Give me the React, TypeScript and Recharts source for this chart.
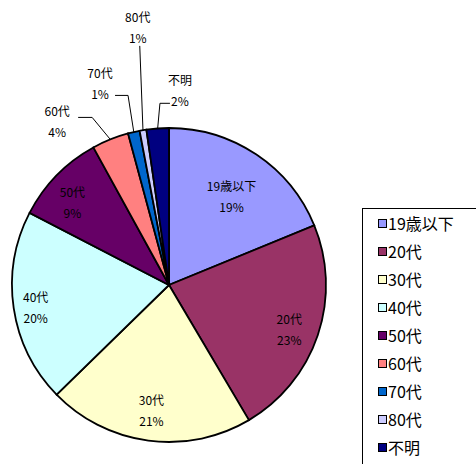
import React from 'react';
import { PieChart, Pie, Cell, Legend } from 'recharts';

// ---- data ----
const categories = ['19歳以下', '20代', '30代', '40代', '50代', '60代', '70代', '80代', '不明'];
const shares = [18.8, 22.7, 21.2, 19.9, 9.4, 3.8, 1.2, 0.7, 2.3];
const colors = ['#9999FF', '#993366', '#FFFFCC', '#CCFFFF', '#660066', '#FF8080', '#0066CC', '#CCCCFF', '#000080'];

const data = categories.map((name, i) => ({ name, value: shares[i] }));

// ---- label layout (polar: radius px, angle deg clockwise from top) ----
type Lay = { r: number; a: number; bend?: [number, number]; end?: [number, number] };
const LABEL_LAYOUT: Lay[] = [
  { r: 109, a: 35 },
  { r: 128, a: 110 },
  { r: 126, a: 188 },
  { r: 135, a: 261 },
  { r: 128, a: 311 },
  { r: 199, a: 325.8, bend: [35, -3], end: [21, -3] },
  { r: 214, a: 341.2, bend: [28, 13], end: [15, 13] },
  { r: 260, a: 353.1, bend: [2, 19], end: [2, 19] },
  { r: 196, a: 3.2, bend: [-20, 14], end: [-10, 14] },
];

const FONT = '"Noto Sans CJK JP", "Noto Sans", sans-serif';
const RAD = Math.PI / 180;

const renderLabel = (props: any) => {
  const { cx, cy, midAngle, outerRadius, index, name, percent } = props;
  const lay = LABEL_LAYOUT[index];
  const lx = cx + lay.r * Math.sin(lay.a * RAD);
  const ly = cy - lay.r * Math.cos(lay.a * RAD);
  const pct = `${Math.round(percent * 100)}%`;
  let line = null;
  if (lay.bend && lay.end) {
    const ex = cx + outerRadius * Math.cos(-midAngle * RAD);
    const ey = cy + outerRadius * Math.sin(-midAngle * RAD);
    const bx = lx + lay.bend[0];
    const by = ly + lay.bend[1];
    const tx = lx + lay.end[0];
    const ty = ly + lay.end[1];
    line = (
      <polyline points={`${ex},${ey} ${bx},${by} ${tx},${ty}`} fill="none" stroke="#000" strokeWidth={1} />
    );
  }
  return (
    <g>
      {line}
      <text x={lx} y={ly - 10} textAnchor="middle" dominantBaseline="central" fontSize={12} fill="#000" fontFamily={FONT}>
        {name}
      </text>
      <text x={lx} y={ly + 11} textAnchor="middle" dominantBaseline="central" fontSize={12} fill="#000" fontFamily={FONT}>
        {pct}
      </text>
    </g>
  );
};

const renderLegend = () => (
  <div
    style={{
      border: '1px solid #000',
      width: 140,
      height: 280,
      boxSizing: 'border-box',
      background: '#fff',
      paddingTop: 0,
      fontFamily: FONT,
    }}
  >
    {categories.map((c, i) => (
      <div key={c} style={{ display: 'flex', alignItems: 'center', height: 28, paddingLeft: 15 }}>
        <span
          style={{
            display: 'inline-block',
            width: 7,
            height: 7,
            border: '1.5px solid #000',
            background: colors[i],
            marginRight: 1,
          }}
        />
        <span style={{ fontSize: 16, color: '#000', lineHeight: '28px' }}>{c}</span>
      </div>
    ))}
  </div>
);

export default function App() {
  return (
    <div style={{ position: 'absolute', left: 0, top: 0, width: 476, height: 464, overflow: 'hidden', background: '#fff' }}>
      <PieChart width={476} height={464} margin={{ top: 0, right: 0, bottom: 0, left: 0 }}>
        <Pie
          data={data}
          dataKey="value"
          nameKey="name"
          cx={169}
          cy={285}
          outerRadius={157}
          startAngle={90}
          endAngle={-270}
          stroke="#000"
          strokeWidth={1.8}
          label={renderLabel}
          labelLine={false}
          isAnimationActive={false}
        >
          {data.map((d, i) => (
            <Cell key={d.name} fill={colors[i]} />
          ))}
        </Pie>
        <Legend
          content={renderLegend}
          wrapperStyle={{ position: 'absolute', left: 362, top: 208, width: 140, height: 280 }}
        />
      </PieChart>
    </div>
  );
}
